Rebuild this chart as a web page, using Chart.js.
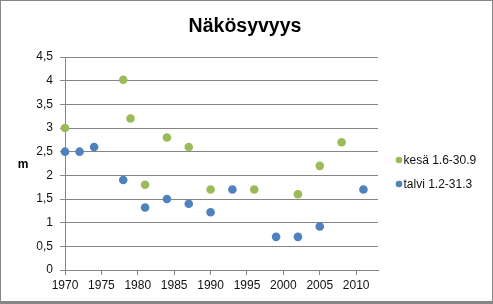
<!DOCTYPE html>
<html><head><meta charset="utf-8">
<script src="https://cdn.jsdelivr.net/npm/chart.js@4"></script>
<style>html,body{margin:0;padding:0;background:#fff}canvas{display:block}</style>
</head><body>
<canvas id="c" width="493" height="304"></canvas>
<script>
const titleText = "Näkösyvyys";
const yAxisLabel = "m";
const summerLabel = "kesä 1.6-30.9";
const winterLabel = "talvi 1.2-31.3";
const summerYears = [1970, 1978, 1979, 1981, 1984, 1987, 1990, 1996, 2002, 2005, 2008];
const summerValues = [3.0, 4.02, 3.2, 1.8, 2.8, 2.6, 1.7, 1.7, 1.6, 2.2, 2.7];
const winterYears = [1970, 1972, 1974, 1978, 1981, 1984, 1987, 1990, 1993, 1999, 2002, 2005, 2011];
const winterValues = [2.5, 2.5, 2.6, 1.9, 1.32, 1.5, 1.4, 1.22, 1.7, 0.7, 0.7, 0.92, 1.7];

const GREEN = "#9BBB59", BLUE = "#4F81BD", GRID = "#868686", TXT = "#111";
const FONT = "'Liberation Sans', Arial, sans-serif";

const toPts = (xs, ys) => xs.map((x, i) => ({x, y: ys[i]}));

const decor = {
  id: "decor",
  beforeDraw(chart) {
    const ctx = chart.ctx;
    ctx.save();
    ctx.fillStyle = "#fff";
    ctx.fillRect(0, 0, chart.width, chart.height);
    ctx.restore();
  },
  afterDraw(chart) {
    const ctx = chart.ctx;
    ctx.save();
    ctx.strokeStyle = GRID;
    ctx.lineWidth = 1;
    ctx.strokeRect(0.5, 0.5, chart.width - 1, chart.height - 1);
    ctx.fillStyle = GRID;
    ctx.fillRect(0, chart.height - 3, chart.width, 3);
    ctx.fillStyle = "#000";
    ctx.font = "bold 19.5px " + FONT;
    ctx.textAlign = "center";
    ctx.textBaseline = "alphabetic";
    ctx.fillText(titleText, 245, 32);
    ctx.font = "bold 12px " + FONT;
    ctx.textBaseline = "middle";
    ctx.fillText(yAxisLabel, 23, 165);
    const items = chart.data.datasets.map(d => ({label: d.label, color: d.backgroundColor}));
    const ys = [160, 184];
    ctx.font = "12px " + FONT;
    ctx.textAlign = "left";
    items.forEach((it, i) => {
      ctx.fillStyle = it.color;
      ctx.beginPath();
      ctx.arc(399, ys[i], 3.3, 0, Math.PI * 2);
      ctx.fill();
      ctx.fillStyle = TXT;
      ctx.fillText(it.label, 403.5, ys[i] + 0.5);
    });
    ctx.restore();
  }
};

new Chart(document.getElementById("c"), {
  type: "scatter",
  data: {
    datasets: [
      {label: summerLabel, data: toPts(summerYears, summerValues), backgroundColor: GREEN, borderColor: GREEN, pointRadius: 4.3, pointHoverRadius: 4.3, borderWidth: 0, clip: false},
      {label: winterLabel, data: toPts(winterYears, winterValues), backgroundColor: BLUE, borderColor: BLUE, pointRadius: 4.3, pointHoverRadius: 4.3, borderWidth: 0, clip: false}
    ]
  },
  options: {
    responsive: false,
    animation: false,
    devicePixelRatio: 1,
    layout: {padding: {left: 0, right: 115, top: 57, bottom: 0}},
    plugins: {legend: {display: false}, title: {display: false}, tooltip: {enabled: false}},
    scales: {
      x: {
        type: "linear", min: 1970, max: 2013,
        afterFit(s) { s.height = 34; },
        ticks: {stepSize: 5, includeBounds: false, color: TXT, font: {family: FONT, size: 12}, padding: 3, maxRotation: 0, autoSkip: false,
          callback: v => String(v)},
        grid: {drawOnChartArea: false, drawTicks: true, tickLength: 5, color: GRID},
        border: {display: true, color: GRID}
      },
      y: {
        min: 0, max: 4.5,
        afterFit(s) { s.width = 65; },
        ticks: {stepSize: 0.5, color: TXT, font: {family: FONT, size: 12}, padding: 7,
          callback: v => String(Math.round(v * 10) / 10).replace(".", ",")},
        grid: {color: GRID, tickLength: 5},
        border: {display: true, color: GRID}
      }
    }
  },
  plugins: [decor]
});
</script>
</body></html>
